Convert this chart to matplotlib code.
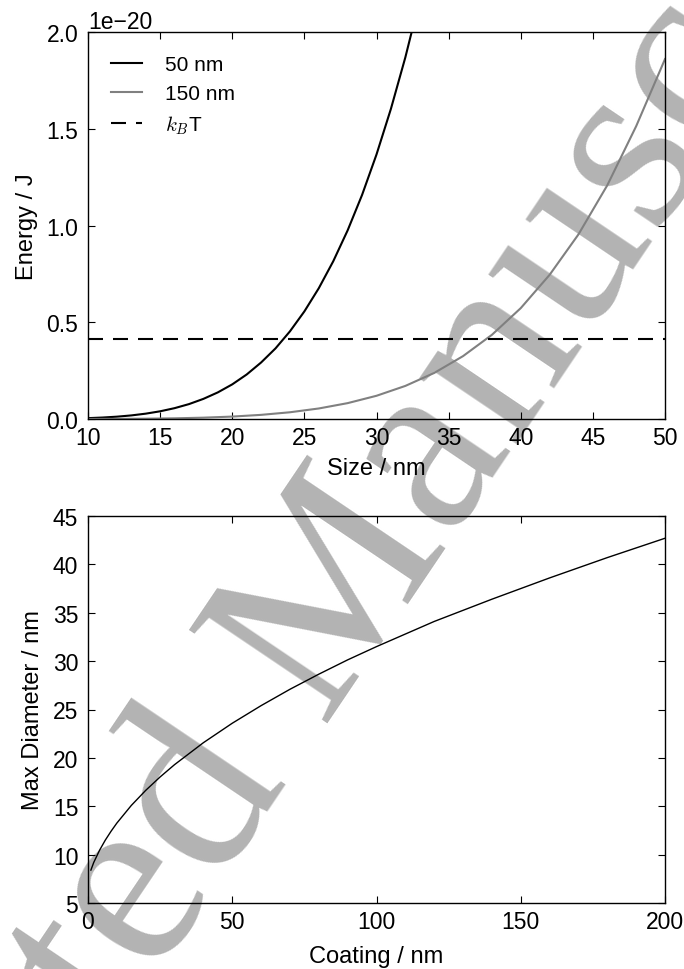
import numpy as np
import matplotlib
matplotlib.use('Agg')
import matplotlib.pyplot as plt

plt.rcParams.update({
    'font.family': ['Liberation Sans', 'DejaVu Sans'],
    'mathtext.fontset': 'cm',
    'font.size': 16.5,
    'axes.labelsize': 17,
    'legend.fontsize': 15,
    'axes.linewidth': 1.0,
    'xtick.direction': 'in',
    'ytick.direction': 'in',
    'xtick.top': True,
    'ytick.right': True,
    'xtick.major.size': 5,
    'ytick.major.size': 5,
    'xtick.major.width': 0.8,
    'ytick.major.width': 0.8,
    'xtick.major.pad': 5,
    'ytick.major.pad': 7,
})

# top panel: energy (units of 1e-20 J) vs particle size
size50 = np.arange(10, 34)
energy50 = np.array([0.0044, 0.0075, 0.012, 0.0185, 0.0276, 0.0398, 0.056, 0.077,
                     0.104, 0.1375, 0.179, 0.230, 0.292, 0.365, 0.453, 0.556,
                     0.676, 0.815, 0.975, 1.158, 1.367, 1.603, 1.869, 2.168])
size150 = np.arange(10, 51, 2)
energy150 = np.array([0.0002, 0.0007, 0.0016, 0.0035, 0.0069, 0.0125, 0.0214,
                      0.0348, 0.0544, 0.082, 0.120, 0.171, 0.238, 0.325, 0.435,
                      0.573, 0.745, 0.954, 1.208, 1.513, 1.86])
kbt = 0.414
size_range = [10, 50]

# bottom panel: max diameter vs coating thickness
coating = [1, 2, 4, 6, 8, 10, 15, 20, 25, 30, 40, 50, 60, 70, 80, 90, 100,
           120, 140, 160, 180, 200]
max_diam = [8.4, 9.2, 10.45, 11.5, 12.42, 13.26, 15.08, 16.64, 18.03, 19.3,
            21.57, 23.58, 25.4, 27.09, 28.65, 30.13, 31.5, 34.1, 36.4, 38.6,
            40.7, 42.7]

scale = 1e-20

fig = plt.figure(figsize=(6.84, 9.70), dpi=100)
fig.patch.set_facecolor('white')

# watermark behind the axes
fig.text(311/684, 1 - 639/970, 'Accepted Manuscript', family='Liberation Serif',
         fontsize=183, color='#b3b3b3', rotation=56, rotation_mode='anchor',
         ha='center', va='center', zorder=-1)

ax1 = fig.add_axes([88/684, 1 - 420/970, 577/684, 387/970])
ax1.set_facecolor('none')
ax1.plot(size50, energy50*scale, color='black', lw=1.5, label='50 nm')
ax1.plot(size150, energy150*scale, color='gray', lw=1.5, label='150 nm')
l, = ax1.plot(size_range, [kbt*scale, kbt*scale], color='black', lw=1.5, ls='--', label=r'$k_B$T')
l.set_dashes([7.2, 4.8])
ax1.set_xlim(10, 50)
ax1.set_ylim(0, 2e-20)
ax1.set_yticks(np.arange(0, 2.01, 0.5)*scale)
ax1.set_xlabel('Size / nm', labelpad=6)
ax1.set_ylabel('Energy / J', labelpad=6)
leg = ax1.legend(loc='upper left', frameon=False, handlelength=1.5, handletextpad=1.1,
                 borderaxespad=0.7, labelspacing=0.5)

ax2 = fig.add_axes([88/684, 1 - 904/970, 577/684, 387/970])
ax2.set_facecolor('none')
ax2.plot(coating, max_diam, color='black', lw=1.0)
ax2.set_xlim(0, 200)
ax2.set_ylim(5, 45)
ax2.set_xticks([0, 50, 100, 150, 200])
ax2.set_yticks(np.arange(5, 46, 5))
ax2.set_xlabel('Coating / nm', labelpad=9)
ax2.set_ylabel('Max Diameter / nm', labelpad=6)

fig.savefig('out.png', dpi=100, facecolor='white')
